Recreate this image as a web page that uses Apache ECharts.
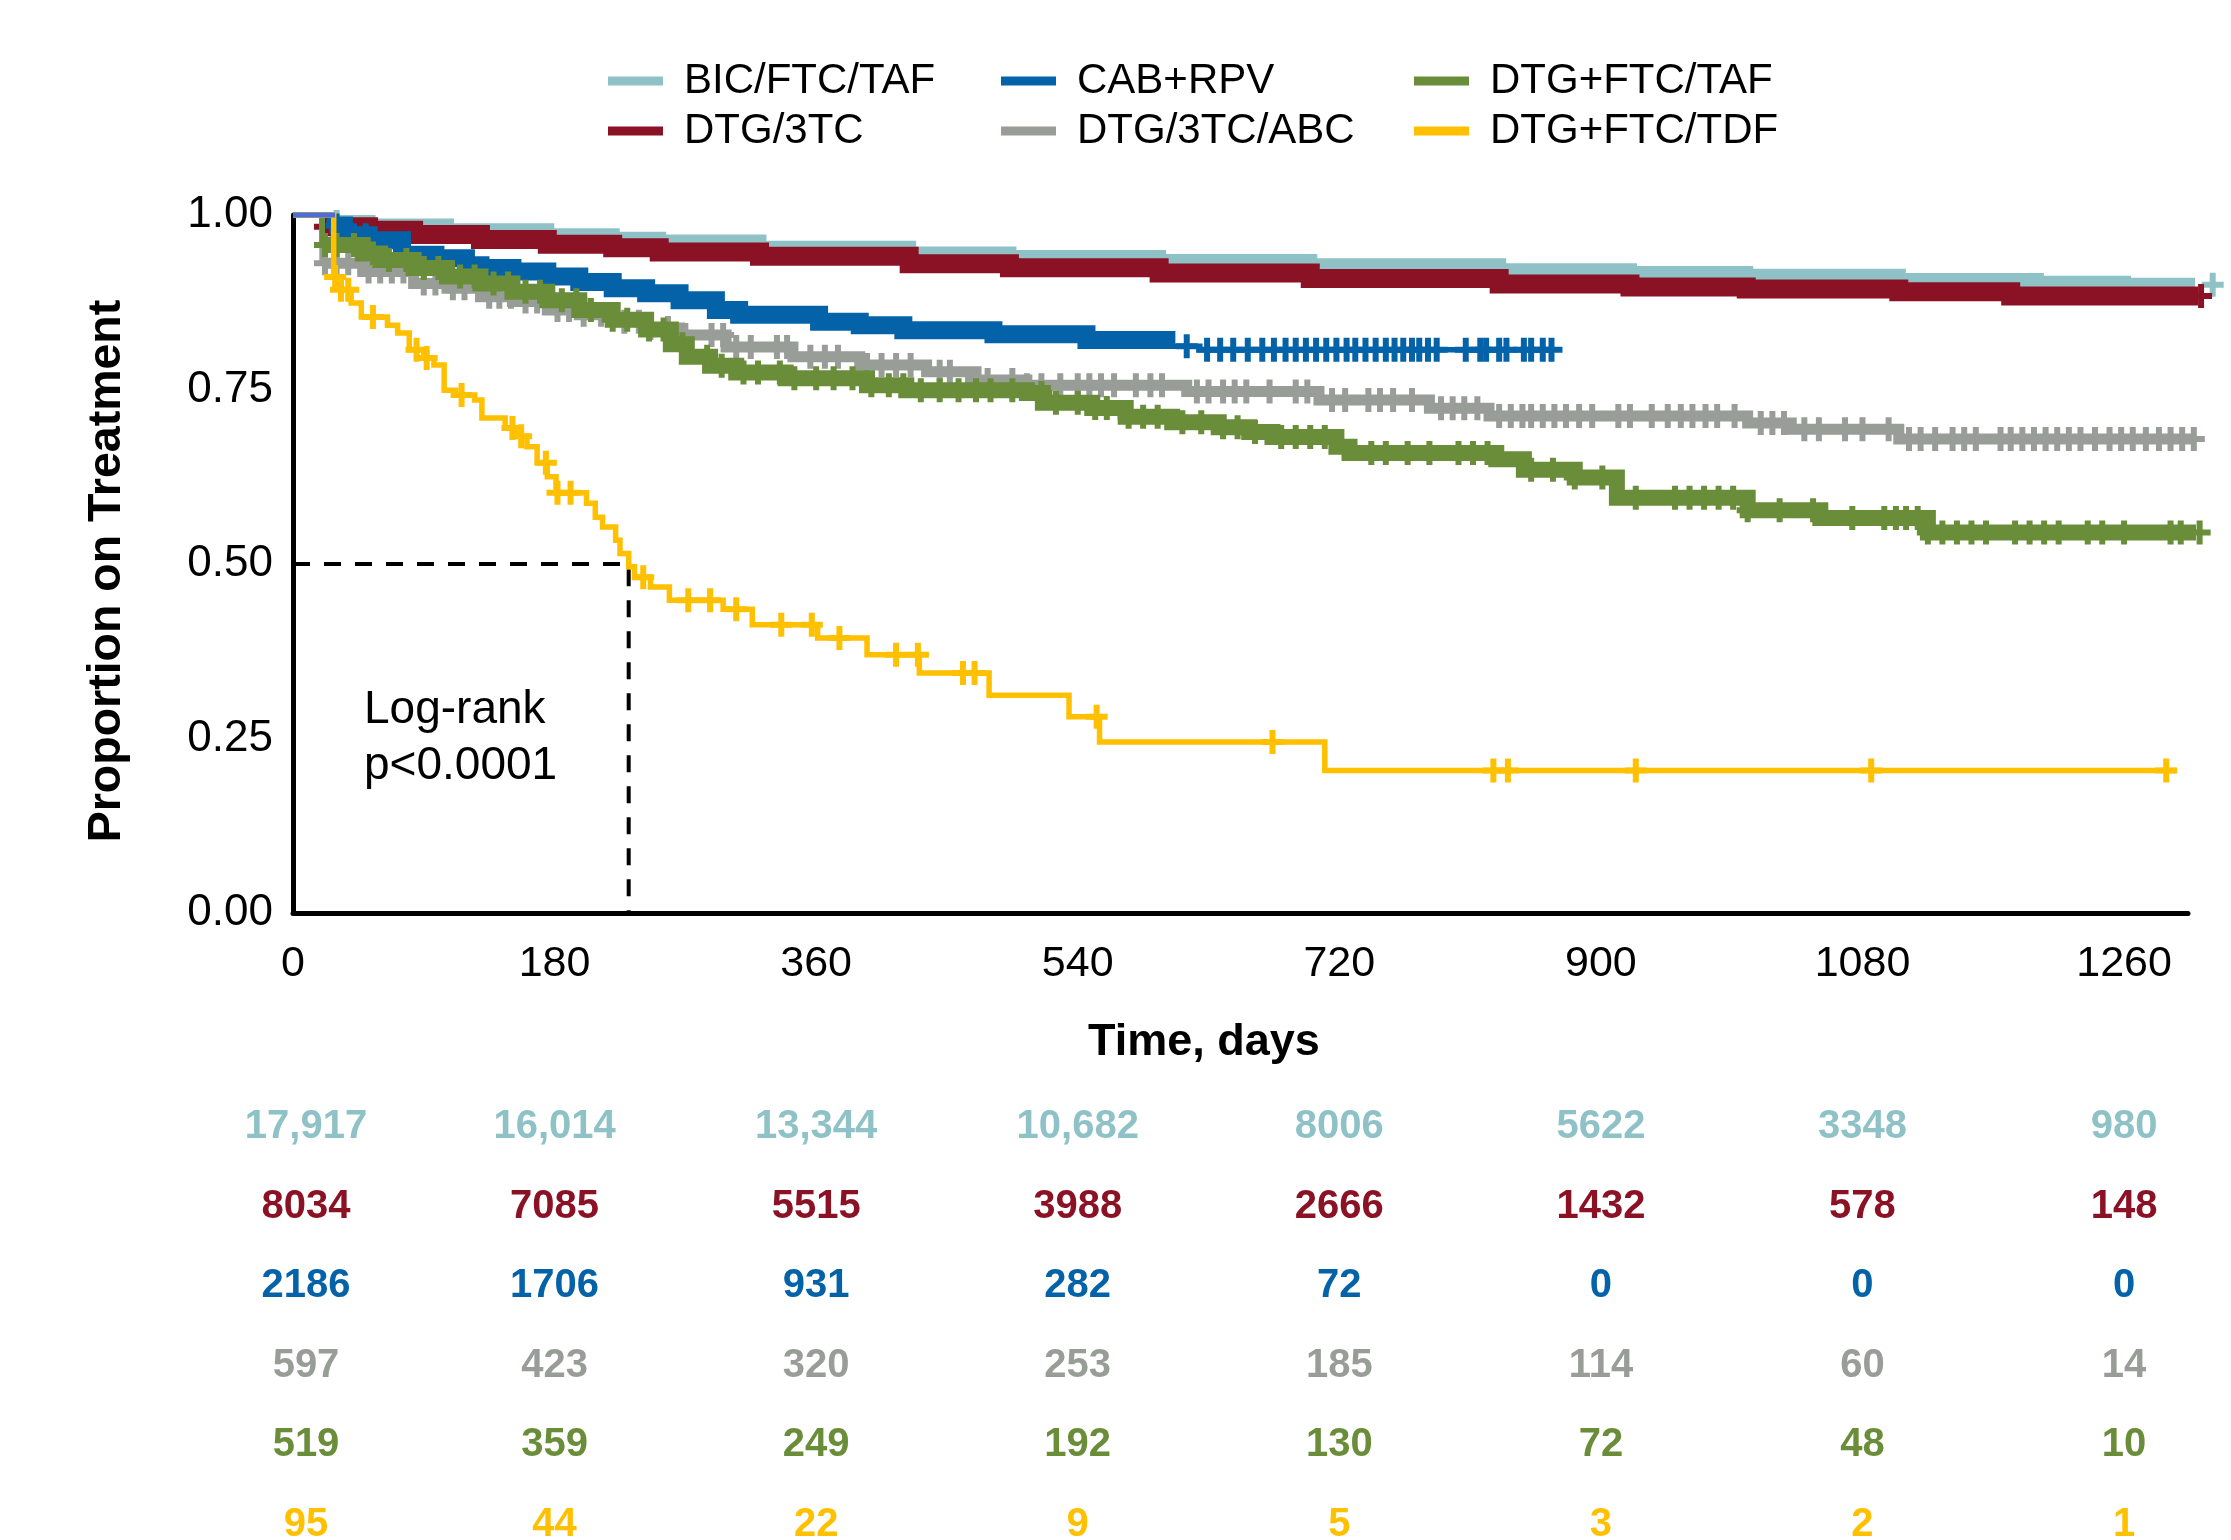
<!DOCTYPE html>
<html><head><meta charset="utf-8">
<script src="https://cdn.jsdelivr.net/npm/echarts@6/dist/echarts.min.js"></script>
<style>html,body{margin:0;padding:0;background:#fff}#c{width:2231px;height:1540px}</style>
</head><body><div id="c"></div>
<script>
// ---------------- DATA ----------------
const groupNames = ['BIC/FTC/TAF','DTG/3TC','CAB+RPV','DTG/3TC/ABC','DTG+FTC/TAF','DTG+FTC/TDF'];
const xTicks = [0,180,360,540,720,900,1080,1260];
const yTicks = [0,0.25,0.5,0.75,1];

// Kaplan-Meier steps [day, proportion on treatment]
const bicSteps = [[0,1],[20,0.99],[52,0.985],[106,0.978],[175,0.971],[220,0.966],[252,0.962],[321,0.953],[424,0.945],[493,0.94],[596,0.934],[700,0.928],[830,0.921],[920,0.917],[1000,0.913],[1105,0.907],[1200,0.903],[1260,0.9],[1321,0.9]];
const dtg3tcSteps = [[0,1],[20,0.983],[52,0.978],[83,0.972],[129,0.965],[175,0.958],[220,0.953],[252,0.947],[321,0.941],[424,0.93],[493,0.9245],[596,0.917],[700,0.909],[830,0.901],[920,0.897],[1000,0.894],[1105,0.89],[1182,0.884],[1313,0.884]];
const cabSteps = [[0,1],[25,0.985],[35,0.971],[52,0.964],[75,0.943],[98,0.938],[119,0.928],[129,0.924],[151,0.919],[175,0.912],[197,0.904],[220,0.895],[243,0.888],[266,0.878],[291,0.864],[307,0.857],[362,0.847],[390,0.842],[420,0.835],[482,0.829],[546,0.821],[601,0.812],[624,0.807],[867,0.807]];
const abcSteps = [[0,1],[20,0.931],[48,0.919],[83,0.902],[106,0.895],[129,0.883],[151,0.876],[175,0.864],[197,0.857],[220,0.847],[243,0.838],[266,0.828],[298,0.811],[344,0.797],[390,0.785],[436,0.7755],[470,0.7636],[505,0.756],[615,0.747],[706,0.735],[782,0.723],[823,0.712],[1001,0.702],[1031,0.693],[1105,0.679],[1309,0.679]];
const ftctafSteps = [[0,1],[20,0.957],[48,0.945],[60,0.9355],[83,0.924],[106,0.912],[129,0.902],[151,0.89],[175,0.878],[197,0.864],[220,0.85],[243,0.836],[260,0.815],[271,0.797],[287,0.784],[305,0.7745],[339,0.766],[395,0.756],[422,0.749],[505,0.745],[516,0.731],[550,0.7235],[573,0.711],[605,0.703],[637,0.696],[658,0.689],[674,0.682],[718,0.668],[727,0.659],[828,0.65],[847,0.635],[882,0.624],[911,0.595],[1001,0.577],[1051,0.566],[1125,0.545],[1314,0.545]];
const tdfSteps = [[0,1],[28,0.911],[33,0.893],[40,0.874],[47,0.854],[65,0.842],[72,0.831],[80,0.807],[90,0.795],[97,0.785],[104,0.749],[112,0.742],[125,0.735],[130,0.709],[146,0.695],[154,0.683],[161,0.668],[168,0.645],[175,0.625],[181,0.602],[202,0.587],[208,0.567],[213,0.553],[222,0.534],[225,0.515],[231,0.496],[235,0.481],[246,0.467],[259,0.448],[296,0.435],[316,0.413],[361,0.394],[395,0.37],[431,0.344],[479,0.312],[534,0.281],[555,0.245],[710,0.204],[1296,0.204]];
const commonStart = [[0,1],[29,1]];

// censoring times (days); marks sit on the curve level at that time
const bicCensor = [30,1321];
const dtg3tcCensor = [22,28,1313];
const cabCensor = [30,42,50,615,629,638,647,657,667,675,683,690,697,704,711,718,725,731,738,745,752,758,764,770,775,781,787,807,817,821,830,835,847,852,860,866];
const abcCensor = [22,30,38,52,60,68,76,90,98,110,118,135,142,150,160,168,182,190,200,212,228,238,246,258,270,288,296,305,315,333,340,356,366,375,395,405,415,425,445,452,470,478,495,505,515,528,540,548,556,565,580,590,598,622,630,640,648,656,672,690,698,715,724,740,748,757,770,790,798,806,815,830,838,846,852,860,868,876,885,894,912,920,935,946,955,963,972,980,992,1010,1018,1026,1040,1050,1068,1080,1098,1112,1120,1130,1142,1150,1158,1175,1182,1190,1198,1206,1214,1222,1230,1240,1250,1258,1266,1275,1284,1292,1300,1308];
const ftctafCensor = [22,30,42,55,66,78,90,100,115,125,138,148,160,170,185,195,205,220,230,245,255,268,285,295,310,320,335,345,360,372,385,398,410,420,432,445,458,470,480,495,515,525,540,552,560,575,585,595,612,625,640,650,662,680,690,700,710,742,752,767,782,802,812,822,852,867,882,901,924,951,961,971,981,991,1001,1023,1046,1073,1095,1103,1110,1118,1125,1135,1145,1155,1165,1185,1195,1205,1215,1235,1245,1260,1292,1299,1312];
const tdfCensor = [29,33,38,55,85,92,116,151,157,174,182,191,241,272,287,305,336,357,376,415,430,461,469,553,674,826,836,924,1086,1289];

// median time on treatment for DTG+FTC/TDF
const medianTime = 231;
const medianLevel = 0.5;

// numbers at risk
const riskTimes = [0,180,360,540,720,900,1080,1260];
const riskBIC = [17917,16014,13344,10682,8006,5622,3348,980];
const riskDTG3TC = [8034,7085,5515,3988,2666,1432,578,148];
const riskCAB = [2186,1706,931,282,72,0,0,0];
const riskABC = [597,423,320,253,185,114,60,14];
const riskFTCTAF = [519,359,249,192,130,72,48,10];
const riskTDF = [95,44,22,9,5,3,2,1];

// ---------------- CHART ----------------
const FONT = '"Liberation Sans", Arial, Helvetica, sans-serif';
const COL = ['#8FC2C7','#8B1224','#0463A8','#989D98','#6A8D3A','#FFC000'];
const steps = [bicSteps,dtg3tcSteps,cabSteps,abcSteps,ftctafSteps,tdfSteps];
const censors = [bicCensor,dtg3tcCensor,cabCensor,abcCensor,ftctafCensor,tdfCensor];
const risks = [riskBIC,riskDTG3TC,riskCAB,riskABC,riskFTCTAF,riskTDF];
// visual thickness of the densely-censored band for each curve (0 = none)
const bandW = [14,19,18,11,16,0];
const bandEnd = [Infinity,Infinity,624,Infinity,Infinity,0];
const PLUS = 'path://M8,0h6v9h8v6h-8v9h-6v-9h-8v-6h8z';

function levelAt(st, t){ let s = st[0][1]; for (const p of st){ if (p[0] <= t) s = p[1]; else break; } return s; }
function fmt(v){ return v >= 10000 ? String(v).replace(/\B(?=(\d{3})+(?!\d))/g, ',') : String(v); }

const series = [];
steps.forEach((st, i) => {
  const z = 10 + i*3;
  series.push({ name:groupNames[i], type:'line', step:'end', xAxisIndex:0, yAxisIndex:0,
    data: st, showSymbol:false, clip:false, z:z, color:COL[i],
    lineStyle:{ color:COL[i], width:5.5, cap:'butt', join:'miter' } });
  if (bandW[i] > 0) {
    series.push({ name:groupNames[i]+' band', type:'line', step:'end', xAxisIndex:0, yAxisIndex:0,
      data: st.slice(1).filter(p => p[0] < bandEnd[i]), showSymbol:false, clip:false, silent:true, z:z,
      lineStyle:{ color:COL[i], width:bandW[i], cap:'butt', join:'miter' } });
  }
  series.push({ name:groupNames[i]+' censored', type:'scatter', xAxisIndex:0, yAxisIndex:0,
    data: censors[i].map(t => [t, levelAt(st, t)]), symbol:PLUS, symbolSize:[22,24], clip:false, silent:true,
    z:z+1, itemStyle:{ color:COL[i], opacity:1 } });
});
series.push({ name:'start', type:'line', data:commonStart, showSymbol:false, clip:false, silent:true, z:40,
  lineStyle:{ color:'#4A6EE0', width:5 } });
series.push({ name:'median', type:'line', data:[[0,medianLevel],[medianTime,medianLevel],[medianTime,0]],
  showSymbol:false, silent:true, z:9, lineStyle:{ color:'#000', width:4, type:[17,14] } });

// numbers-at-risk table
risks.forEach((r, i) => {
  series.push({ name:'risk'+i, type:'scatter', xAxisIndex:1, yAxisIndex:1, silent:true,
    symbolSize:1, itemStyle:{ color:'rgba(0,0,0,0)', opacity:1 },
    data: r.map((v, k) => ({ value:[riskTimes[k], i, v],
      label:{ offset: riskTimes[k] === 0 ? [13,0] : [0,0] } })),
    label:{ show:true, position:'inside', formatter:p => fmt(p.value[2]), opacity:1,
      color:COL[i], fontFamily:FONT, fontWeight:'bold', fontSize:40 } });
});

const legendCommon = { orient:'vertical', itemGap:0, icon:'rect', itemWidth:55, itemHeight:9, selectedMode:false,
  itemStyle:{ borderWidth:0 },
  textStyle:{ fontFamily:FONT, fontSize:42, color:'#000', lineHeight:50, padding:[0,0,0,16] } };

const option = {
  backgroundColor:'#fff',
  animation:false,
  grid:[ { left:293, right:43, top:215, height:698 }, { left:293, right:43, top:1127, height:397.5 } ],
  xAxis:[
    { type:'value', gridIndex:0, min:0, max:1304, interval:180,
      axisLine:{ show:true, onZero:false, lineStyle:{ color:'#000', width:5 } },
      axisTick:{ show:false }, splitLine:{ show:false },
      axisLabel:{ fontFamily:FONT, fontSize:43, color:'#000', margin:30, showMaxLabel:false, formatter:v => String(v) } },
    { type:'value', gridIndex:1, min:0, max:1304, show:false }
  ],
  yAxis:[
    { type:'value', gridIndex:0, min:0, max:1, interval:0.25,
      axisLine:{ show:true, onZero:false, lineStyle:{ color:'#000', width:5 } },
      axisTick:{ show:false }, splitLine:{ show:false },
      axisLabel:{ fontFamily:FONT, fontSize:44, color:'#000', margin:20, formatter:v => v.toFixed(2) } },
    { type:'value', gridIndex:1, min:0, max:5, inverse:true, show:false }
  ],
  legend:[
    Object.assign({ left:603, top:51, data:[groupNames[0], groupNames[1]] }, legendCommon),
    Object.assign({ left:996, top:51, data:[groupNames[2], groupNames[3]] }, legendCommon),
    Object.assign({ left:1409, top:51, data:[groupNames[4], groupNames[5]] }, legendCommon)
  ],
  graphic:[
    { type:'text', x:107, y:571, rotation:Math.PI/2, silent:true,
      style:{ text:'Proportion on Treatment', fontFamily:FONT, fontWeight:'bold', fontSize:46.5, fill:'#000', align:'center', verticalAlign:'middle' } },
    { type:'text', x:1204, y:1043, silent:true,
      style:{ text:'Time, days', fontFamily:FONT, fontWeight:'bold', fontSize:45, fill:'#000', align:'center', verticalAlign:'middle' } },
    { type:'text', x:364, y:710, silent:true,
      style:{ text:'Log-rank', fontFamily:FONT, fontSize:46, fill:'#000', align:'left', verticalAlign:'middle' } },
    { type:'text', x:364, y:766, silent:true,
      style:{ text:'p<0.0001', fontFamily:FONT, fontSize:46, fill:'#000', align:'left', verticalAlign:'middle' } }
  ],
  series: series
};

const chart = echarts.init(document.getElementById('c'), null, { renderer:'canvas' });
chart.setOption(option);
</script>
</body></html>
